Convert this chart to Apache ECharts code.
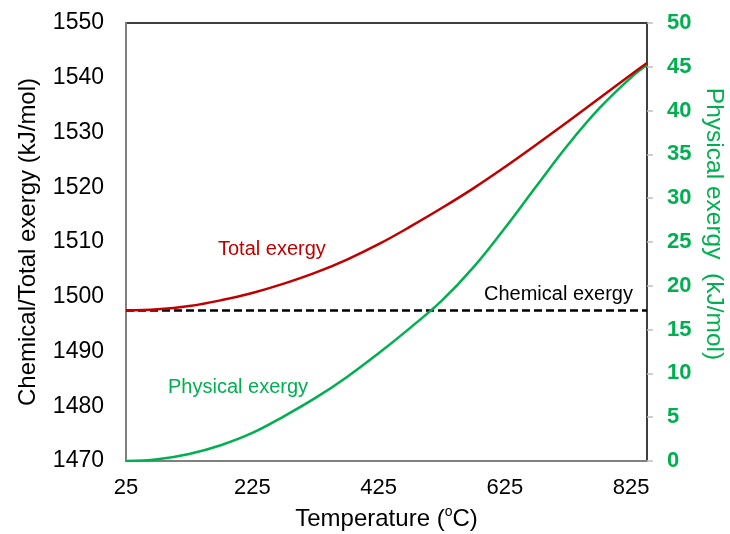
<!DOCTYPE html>
<html>
<head>
<meta charset="utf-8">
<script src="https://cdn.jsdelivr.net/npm/echarts@6/dist/echarts.min.js"></script>
<style>
html, body { margin: 0; padding: 0; background: #fff; }
#chartDiv { width: 730px; height: 534px; }
</style>
</head>
<body>
<div id="chartDiv"></div>
<script>
var fontName = "'Liberation Sans', Arial, sans-serif";

// temperature (oC)
var temps = [25, 75, 125, 175, 225, 275, 325, 375, 425, 475, 525, 575, 625, 675, 725, 775, 825, 850];
// total exergy (kJ/mol), left axis
var totalExergy = [1497.5, 1497.7, 1498.3, 1499.35, 1500.7, 1502.4, 1504.4, 1506.8, 1509.6, 1512.8, 1516.2, 1519.8, 1523.7, 1527.8, 1532.0, 1536.3, 1540.6, 1542.7];
// physical exergy (kJ/mol), right axis
var physicalExergy = [0, 0.2, 0.8, 1.8, 3.2, 5.1, 7.2, 9.6, 12.3, 15.2, 18.3, 22.1, 26.6, 31.4, 36.1, 40.3, 43.8, 45.2];
// chemical exergy is flat
var chemTemps = [25, 850];
var chemExergy = [1497.5, 1497.5];

var xTicks = [25, 225, 425, 625, 825];

function pairs(xs, ys) {
	var out = [];
	for (var i = 0; i < xs.length; i++) {
		out.push([xs[i], ys[i]]);
	}
	return out;
}

var myChart = echarts.init(document.getElementById('chartDiv'));
var option = {
	animation: false,
	backgroundColor: '#fff',
	textStyle: { fontFamily: fontName },
	grid: {
		left: 126,
		right: 83,
		top: 23,
		bottom: 73,
		outerBoundsMode: 'none',
		show: true,
		borderColor: '#000',
		borderWidth: 1.5
	},
	xAxis: {
		type: 'value',
		min: 25,
		max: 850,
		name: '{n|Temperature (}{s|o}{n|C)}',
		nameLocation: 'middle',
		nameGap: 44,
		nameTextStyle: {
			rich: {
				n: { fontSize: 24, color: '#000', fontFamily: fontName, lineHeight: 28 },
				s: { fontSize: 14, color: '#000', fontFamily: fontName, verticalAlign: 'top', lineHeight: 16 }
			}
		},
		axisLine: { show: true, lineStyle: { color: '#808080', width: 2 } },
		axisTick: { show: false, customValues: xTicks },
		axisLabel: { customValues: xTicks, fontSize: 22, color: '#000', margin: 16, fontFamily: fontName },
		splitLine: { show: false }
	},
	yAxis: [
		{
			type: 'value',
			min: 1470,
			max: 1550,
			interval: 10,
			name: 'Chemical/Total exergy (kJ/mol)',
			nameLocation: 'middle',
			nameGap: 86,
			nameTextStyle: { fontSize: 24, color: '#000', fontFamily: fontName },
			axisLine: { show: true, lineStyle: { color: '#808080', width: 2 } },
			axisTick: { show: false },
			axisLabel: {
				fontSize: 23, color: '#000', margin: 22, fontFamily: fontName,
				formatter: function(v) { return String(v); }
			},
			splitLine: { show: false }
		},
		{
			type: 'value',
			position: 'right',
			min: 0,
			max: 50,
			interval: 5,
			axisLine: { show: true, lineStyle: { color: '#404040', width: 2 } },
			axisTick: { show: true, length: 6, lineStyle: { color: '#bfbfbf', width: 1.5 } },
			axisLabel: { fontSize: 22, fontWeight: 'bold', color: '#00b050', margin: 20, fontFamily: fontName },
			splitLine: { show: false }
		}
	],
	series: [
		{
			name: 'Chemical exergy',
			type: 'line',
			yAxisIndex: 0,
			data: pairs(chemTemps, chemExergy),
			symbol: 'none',
			lineStyle: { color: '#000', width: 2.5, type: [8, 4] }
		},
		{
			name: 'Physical exergy',
			type: 'line',
			yAxisIndex: 1,
			data: pairs(temps, physicalExergy),
			smooth: 0.4,
			symbol: 'none',
			lineStyle: { color: '#00b050', width: 2.5 }
		},
		{
			name: 'Total exergy',
			type: 'line',
			yAxisIndex: 0,
			data: pairs(temps, totalExergy),
			smooth: 0.4,
			symbol: 'none',
			lineStyle: { color: '#c00000', width: 2.5 }
		}
	],
	graphic: [
		{
			type: 'text', x: 714, y: 224, rotation: -Math.PI / 2,
			style: { text: 'Physical exergy  (kJ/mol)', fill: '#00b050', fontSize: 24.5, fontFamily: fontName, align: 'center', verticalAlign: 'middle' }
		},
		{
			type: 'text', x: 218, y: 249,
			style: { text: 'Total exergy', fill: '#c00000', fontSize: 20, fontFamily: fontName, align: 'left', verticalAlign: 'middle' }
		},
		{
			type: 'text', x: 168, y: 387,
			style: { text: 'Physical exergy', fill: '#00b050', fontSize: 20, fontFamily: fontName, align: 'left', verticalAlign: 'middle' }
		},
		{
			type: 'text', x: 484, y: 294,
			style: { text: 'Chemical exergy', fill: '#000', fontSize: 20, fontFamily: fontName, align: 'left', verticalAlign: 'middle' }
		}
	]
};
myChart.setOption(option);
</script>
</body>
</html>
